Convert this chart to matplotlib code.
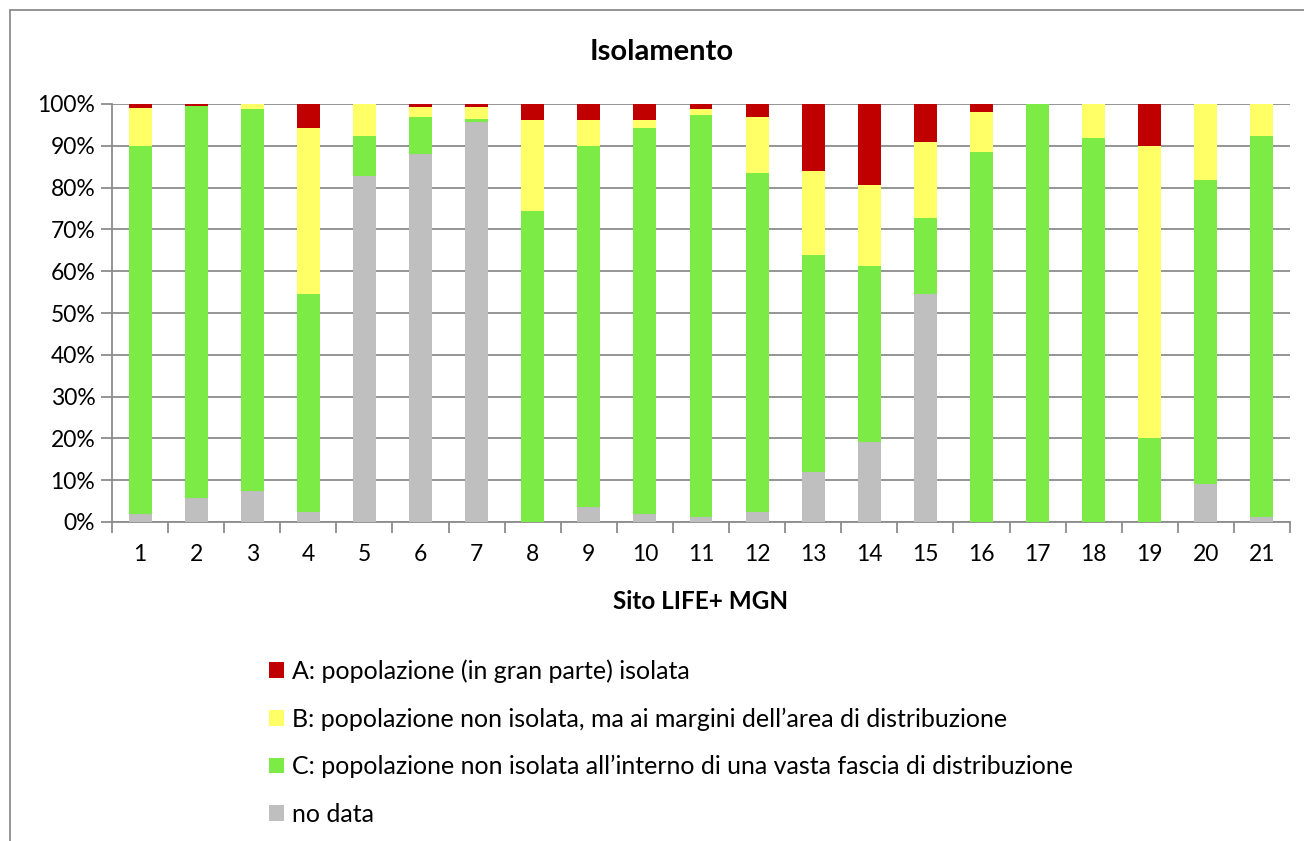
import matplotlib
matplotlib.use('Agg')
import matplotlib.pyplot as plt
from matplotlib.patches import Patch, Rectangle
from matplotlib.ticker import FixedLocator, NullFormatter
import numpy as np

plt.rcParams['font.family'] = ['Lato', 'DejaVu Sans']

siti = [str(i) for i in range(1, 22)]

# percentuali per sito
no_data = [1.8, 5.8, 7.3, 2.3, 82.8, 88.1, 95.8, 0, 3.7, 1.8, 1.2,
           2.5, 11.9, 19.2, 54.5, 0, 0, 0, 0, 9.0, 1.2]
cat_c = [88.1, 93.8, 91.4, 52.3, 9.5, 8.9, 0.7, 74.4, 86.2, 92.5, 96.2,
         80.9, 52.0, 42.1, 18.2, 88.5, 100, 91.8, 20.0, 72.9, 91.1]
cat_b = [9.2, 0, 1.3, 39.6, 7.7, 2.4, 2.9, 21.7, 6.3, 1.9, 1.3,
         13.6, 20.0, 19.4, 18.2, 9.6, 0, 8.2, 70.0, 18.1, 7.7]
cat_a = [0.9, 0.4, 0, 5.8, 0, 0.6, 0.6, 3.9, 3.8, 3.8, 1.3,
         3.0, 16.1, 19.3, 9.1, 1.9, 0, 0, 10.0, 0, 0]

labels = ['A: popolazione (in gran parte) isolata',
          'B: popolazione non isolata, ma ai margini dell\u2019area di distribuzione',
          'C: popolazione non isolata all\u2019interno di una vasta fascia di distribuzione',
          'no data']
colors = ['#C00000', '#FFFF66', '#7CEB46', '#BFBFBF']

fig = plt.figure(figsize=(13.04, 8.41), dpi=100)
ax = fig.add_axes([112 / 1304, 1 - 522 / 841, (1290 - 112) / 1304, (522 - 104) / 841])

x = np.arange(len(siti))
w = 0.41
series = [no_data, cat_c, cat_b, cat_a]
cols = [colors[3], colors[2], colors[1], colors[0]]
bottom = np.zeros(len(siti))
for vals, c in zip(series, cols):
    v = np.array(vals, dtype=float)
    ax.bar(x, v, w, bottom=bottom, color=c, zorder=3)
    bottom += v

ax.set_xlim(-0.5, len(siti) - 0.5)
ax.set_ylim(0, 100)
ax.set_yticks(np.arange(0, 101, 10))
ax.set_yticklabels([f'{v}%' for v in range(0, 101, 10)], fontsize=16.5)
ax.yaxis.grid(True, color='#8C8C8C', linewidth=1.3, zorder=0)
ax.tick_params(axis='y', length=8, width=1.3, color='#8C8C8C', pad=4)

ax.set_xticks(x)
ax.set_xticklabels(siti, fontsize=16.5)
ax.tick_params(axis='x', which='major', length=0, pad=16)
ax.xaxis.set_minor_locator(FixedLocator(np.arange(-0.5, len(siti), 1)))
ax.xaxis.set_minor_formatter(NullFormatter())
ax.tick_params(axis='x', which='minor', length=8, width=1.3, color='#8C8C8C')

for s in ['top', 'right']:
    ax.spines[s].set_visible(False)
for s in ['left', 'bottom']:
    ax.spines[s].set_color('#8C8C8C')
    ax.spines[s].set_linewidth(1.3)

ax.set_xlabel('Sito LIFE+ MGN', fontsize=17.5, fontweight='bold', labelpad=18)
fig.text(662 / 1304, 1 - 52 / 841, 'Isolamento', fontsize=21, fontweight='bold',
         ha='center', va='center')

handles = [Patch(facecolor=c, edgecolor='none') for c in colors]
fig.legend(handles, labels, loc='upper left', bbox_to_anchor=(246 / 1304, 1 - 637 / 841),
           frameon=False, fontsize=18, handlelength=0.6, handleheight=0.6,
           handletextpad=0.35, labelspacing=0.97)

fig.patches.append(Rectangle((10 / 1304, -0.01), 1.2, 1 - 10 / 841 + 0.01,
                             transform=fig.transFigure, fill=False,
                             edgecolor='#8C8C8C', linewidth=1.3))

fig.savefig('out.png', dpi=100)
